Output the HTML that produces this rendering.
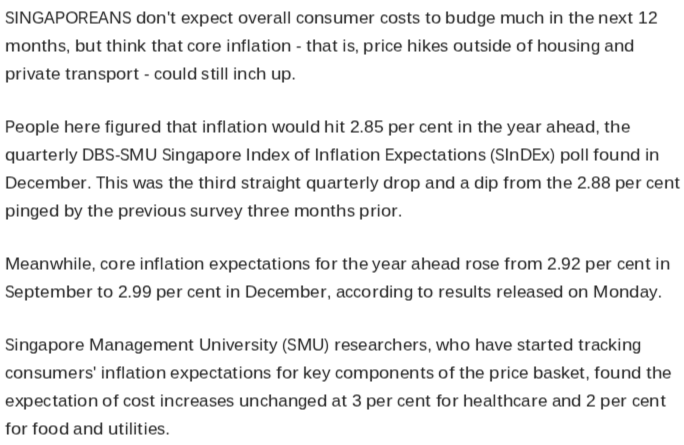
<!DOCTYPE html>
<html lang="en"><head><meta charset="utf-8"><title>Article</title>
<style>
html,body{margin:0;padding:0;background:#fff;}
body{width:684px;height:445px;overflow:hidden;position:relative;font-family:"Liberation Sans",sans-serif;font-size:17px;color:#222;}
/* slight softening + half-pixel baseline offset, as in the (resampled) reference */
#article{position:absolute;left:0;top:0;width:684px;height:445px;overflow:hidden;filter:url(#soft);}
p{margin:0;}
/* one absolutely placed box per text line; glyph cells are sized to the reference advance widths */
.l{position:absolute;left:5px;width:679px;height:20px;line-height:20px;white-space:nowrap;}
.l b{display:inline-block;font-weight:normal;transform-origin:0 0;}
</style></head><body>
<svg width="0" height="0" style="position:absolute"><defs><filter id="soft" filterUnits="userSpaceOnUse" x="0" y="0" width="684" height="445" color-interpolation-filters="sRGB"><feConvolveMatrix order="3 2" kernelMatrix="0.05 0.4 0.05 0.05 0.4 0.05" divisor="1" targetX="1" targetY="1" edgeMode="none" preserveAlpha="false"/></filter></defs></svg>
<div id="article">
<p>
<span class="l" style="top:8px"><b style="width:9.3125px;transform:translateX(-.1px) scaleX(0.840)">S</b><b style="width:4.75px;transform:translateX(.02px)">I</b><b style="width:12.8125px;transform:scaleX(1.043)">N</b><b style="width:12.375px;transform:translateX(-.02px) scaleX(0.935)">G</b><b style="width:10.75px;transform:translateX(-.03px) scaleX(0.949)">A</b><b style="width:10.1875px;transform:translateX(-.03px) scaleX(0.904)">P</b><b style="width:13.25px;transform:translateX(.02px)">O</b><b style="width:10.4375px;transform:translateX(-.02px) scaleX(0.855)">R</b><b style="width:9.5px;transform:scaleX(0.840)">E</b><b style="width:10.75px;transform:translateX(-.02px) scaleX(0.949)">A</b><b style="width:12.75px;transform:translateX(-.02px) scaleX(1.043)">N</b><b style="width:9.375px;transform:translateX(-.06px) scaleX(0.840)">S</b> <b style="margin-left:-.359375px;width:10.4375px;transform:translateX(.02px) scaleX(1.101)">d</b><b style="width:10.1875px;transform:translateX(-.02px) scaleX(1.083)">o</b><b style="width:10.4375px;transform:translateX(.03px) scaleX(1.102)">n</b><b style="width:3.75px;transform:translateX(.26px)">'</b><b style="width:6.0625px;transform:translateX(.37px) scaleX(1.120)">t</b> <b style="margin-left:-.359375px;width:9.5625px;transform:translateX(.03px) scaleX(1.010)">e</b><b style="width:8.9375px;transform:translateX(.02px) scaleX(1.048)">x</b><b style="width:10.375px;transform:translateX(-.03px) scaleX(1.101)">p</b><b style="width:9.5625px;transform:scaleX(1.010)">e</b><b style="width:8.125px;transform:translateX(-.02px) scaleX(0.960)">c</b><b style="width:6.0625px;transform:translateX(.39px) scaleX(1.120)">t</b> <b style="margin-left:-.359375px;width:10.25px;transform:translateX(.03px) scaleX(1.083)">o</b><b style="width:8.5px;transform:translateX(.02px)">v</b><b style="width:9.5625px;transform:scaleX(1.010)">e</b><b style="width:6.9375px;transform:translateX(.29px) scaleX(1.120)">r</b><b style="width:9.4375px;transform:scaleX(0.998)">a</b><b style="width:4.3125px;transform:translateX(.27px)">l</b><b style="width:4.3125px;transform:translateX(.25px)">l</b> <b style="margin-left:-.359375px;width:8.1875px;transform:scaleX(0.961)">c</b><b style="width:10.1875px;transform:translateX(-.03px) scaleX(1.081)">o</b><b style="width:10.4375px;transform:scaleX(1.102)">n</b><b style="width:8.125px;transform:translateX(-.02px) scaleX(0.956)">s</b><b style="width:10.375px;transform:translateX(-.03px) scaleX(1.102)">u</b><b style="width:15.75px;transform:translateX(.02px) scaleX(1.111)">m</b><b style="width:9.5625px;transform:scaleX(1.010)">e</b><b style="width:7px;transform:translateX(.29px) scaleX(1.120)">r</b> <b style="margin-left:-.359375px;width:8.125px;transform:translateX(-.02px) scaleX(0.960)">c</b><b style="width:10.1875px;transform:scaleX(1.081)">o</b><b style="width:8.125px;transform:translateX(.03px) scaleX(0.956)">s</b><b style="width:6.0625px;transform:translateX(.4px) scaleX(1.120)">t</b><b style="width:8.125px;transform:translateX(.02px) scaleX(0.954)">s</b> <b style="margin-left:-.296875px;width:6px;transform:translateX(.35px) scaleX(1.120)">t</b><b style="width:10.25px;transform:translateX(.02px) scaleX(1.083)">o</b> <b style="margin-left:-.296875px;width:10.375px;transform:translateX(-.02px) scaleX(1.099)">b</b><b style="width:10.4375px;transform:scaleX(1.102)">u</b><b style="width:10.375px;transform:scaleX(1.099)">d</b><b style="width:9.25px;transform:translateX(.02px) scaleX(0.977)">g</b><b style="width:9.5625px;transform:scaleX(1.010)">e</b> <b style="margin-left:-.359375px;width:15.75px;transform:translateX(.02px) scaleX(1.112)">m</b><b style="width:10.4375px;transform:translateX(.02px) scaleX(1.102)">u</b><b style="width:8.125px;transform:scaleX(0.960)">c</b><b style="width:10.4375px;transform:translateX(.02px) scaleX(1.102)">h</b> <b style="margin-left:-.296875px;width:4.25px;transform:translateX(.25px)">i</b><b style="width:10.4375px;transform:translateX(.03px) scaleX(1.102)">n</b> <b style="margin-left:-.296875px;width:6.0625px;transform:translateX(.38px) scaleX(1.120)">t</b><b style="width:10.4375px;transform:translateX(-.02px) scaleX(1.104)">h</b><b style="width:9.5625px;transform:translateX(-.02px) scaleX(1.010)">e</b> <b style="margin-left:-.359375px;width:10.4375px;transform:scaleX(1.102)">n</b><b style="width:9.5px;transform:translateX(-.02px) scaleX(1.010)">e</b><b style="width:8.9375px;transform:translateX(.03px) scaleX(1.050)">x</b><b style="width:6.0625px;transform:translateX(.39px) scaleX(1.120)">t</b> <b style="margin-left:-.359375px;width:9.75px;transform:translateX(.03px) scaleX(1.028)">1</b><b style="width:9.75px;transform:scaleX(1.028)">2</b></span>
<span class="l" style="top:36px"><b style="width:15.75px;transform:scaleX(1.111)">m</b><b style="width:10.1875px;transform:translateX(-.02px) scaleX(1.081)">o</b><b style="width:10.4375px;transform:translateX(.02px) scaleX(1.102)">n</b><b style="width:6.0625px;transform:translateX(.4px) scaleX(1.120)">t</b><b style="width:10.4375px;transform:scaleX(1.104)">h</b><b style="width:8.125px;transform:scaleX(0.954)">s</b><b style="width:4.4375px;transform:translateX(-.19px)">,</b> <b style="margin-left:-.421875px;width:10.4375px;transform:translateX(.03px) scaleX(1.101)">b</b><b style="width:10.4375px;transform:scaleX(1.102)">u</b><b style="width:6.0625px;transform:translateX(.37px) scaleX(1.120)">t</b> <b style="margin-left:-.296875px;width:6px;transform:translateX(.35px) scaleX(1.120)">t</b><b style="width:10.4375px;transform:translateX(.02px) scaleX(1.104)">h</b><b style="width:4.3125px;transform:translateX(.27px)">i</b><b style="width:10.4375px;transform:translateX(-.02px) scaleX(1.104)">n</b><b style="width:8.9375px;transform:translateX(-.02px) scaleX(1.051)">k</b> <b style="margin-left:-.359375px;width:6.0625px;transform:translateX(.4px) scaleX(1.120)">t</b><b style="width:10.4375px;transform:translateX(.02px) scaleX(1.102)">h</b><b style="width:9.4375px;transform:scaleX(0.998)">a</b><b style="width:6.0625px;transform:translateX(.39px) scaleX(1.120)">t</b> <b style="margin-left:-.296875px;width:8.125px;transform:translateX(-.02px) scaleX(0.960)">c</b><b style="width:10.25px;transform:scaleX(1.083)">o</b><b style="width:6.9375px;transform:translateX(.28px) scaleX(1.120)">r</b><b style="width:9.5625px;transform:translateX(-.02px) scaleX(1.010)">e</b> <b style="margin-left:-.359375px;width:4.3125px;transform:translateX(.27px)">i</b><b style="width:10.4375px;transform:translateX(-.02px) scaleX(1.104)">n</b><b style="width:5px;transform:translateX(-.02px) scaleX(1.059)">f</b><b style="width:5px;transform:translateX(.6px)">l</b><b style="width:9.4375px;transform:translateX(-.02px)">a</b><b style="width:6.0625px;transform:translateX(.39px) scaleX(1.120)">t</b><b style="width:4.3125px;transform:translateX(.26px)">i</b><b style="width:10.1875px;transform:translateX(-.03px) scaleX(1.083)">o</b><b style="width:10.4375px;transform:translateX(.02px) scaleX(1.102)">n</b> <b style="margin-left:-.296875px;width:5.5px;transform:translateX(-.02px) scaleX(0.967)">-</b> <b style="margin-left:-.359375px;width:6.0625px;transform:translateX(.37px) scaleX(1.120)">t</b><b style="width:10.4375px;transform:translateX(-.02px) scaleX(1.104)">h</b><b style="width:9.4375px;transform:translateX(-.02px) scaleX(0.998)">a</b><b style="width:6.0625px;transform:translateX(.37px) scaleX(1.120)">t</b> <b style="margin-left:-.296875px;width:4.25px;transform:translateX(.23px)">i</b><b style="width:8.125px;transform:scaleX(0.956)">s</b><b style="width:4.375px;transform:translateX(-.18px)">,</b> <b style="margin-left:-.296875px;width:10.375px;transform:translateX(-.02px) scaleX(1.101)">p</b><b style="width:6.9375px;transform:translateX(.32px) scaleX(1.120)">r</b><b style="width:4.3125px;transform:translateX(.28px)">i</b><b style="width:8.125px;transform:scaleX(0.960)">c</b><b style="width:9.5625px;transform:translateX(.02px) scaleX(1.010)">e</b> <b style="margin-left:-.296875px;width:10.4375px;transform:translateX(-.02px) scaleX(1.102)">h</b><b style="width:4.25px;transform:translateX(.23px)">i</b><b style="width:8.9375px;transform:scaleX(1.053)">k</b><b style="width:9.5625px;transform:scaleX(1.010)">e</b><b style="width:8.125px;transform:translateX(-.02px) scaleX(0.956)">s</b> <b style="margin-left:-.359375px;width:10.25px;transform:scaleX(1.083)">o</b><b style="width:10.375px;transform:translateX(-.02px) scaleX(1.102)">u</b><b style="width:6.125px;transform:translateX(.42px) scaleX(1.120)">t</b><b style="width:8.0625px;transform:translateX(-.03px) scaleX(0.954)">s</b><b style="width:4.3125px;transform:translateX(.27px)">i</b><b style="width:10.375px;transform:translateX(-.02px) scaleX(1.101)">d</b><b style="width:9.5625px;transform:translateX(.02px) scaleX(1.008)">e</b> <b style="margin-left:-.296875px;width:10.1875px;transform:translateX(-.03px) scaleX(1.083)">o</b><b style="width:5.75px;transform:translateX(.23px) scaleX(1.120)">f</b> <b style="margin-left:-.359375px;width:10.4375px;transform:translateX(.02px) scaleX(1.102)">h</b><b style="width:10.25px;transform:translateX(.02px) scaleX(1.081)">o</b><b style="width:10.375px;transform:translateX(-.02px) scaleX(1.102)">u</b><b style="width:8.125px;transform:translateX(.03px) scaleX(0.956)">s</b><b style="width:4.3125px;transform:translateX(.27px)">i</b><b style="width:10.4375px;transform:translateX(-.02px) scaleX(1.104)">n</b><b style="width:9.25px;transform:translateX(-.02px) scaleX(0.975)">g</b> <b style="margin-left:-.359375px;width:9.4375px">a</b><b style="width:10.4375px;transform:translateX(.02px) scaleX(1.102)">n</b><b style="width:10.375px;transform:scaleX(1.099)">d</b></span>
<span class="l" style="top:64px"><b style="width:10.375px;transform:scaleX(1.099)">p</b><b style="width:7px;transform:translateX(.32px) scaleX(1.120)">r</b><b style="width:4.25px;transform:translateX(.23px)">i</b><b style="width:8.5px;transform:scaleX(1.002)">v</b><b style="width:9.4375px;transform:scaleX(0.998)">a</b><b style="width:6.0625px;transform:translateX(.4px) scaleX(1.120)">t</b><b style="width:9.5625px;transform:scaleX(1.010)">e</b> <b style="margin-left:-.296875px;width:6px;transform:translateX(.36px) scaleX(1.120)">t</b><b style="width:7px;transform:translateX(.33px) scaleX(1.120)">r</b><b style="width:9.4375px;transform:translateX(-.03px)">a</b><b style="width:10.4375px;transform:translateX(-.02px) scaleX(1.102)">n</b><b style="width:8.0625px;transform:translateX(-.03px) scaleX(0.956)">s</b><b style="width:10.4375px;transform:translateX(.02px) scaleX(1.099)">p</b><b style="width:10.1875px;transform:translateX(-.03px) scaleX(1.083)">o</b><b style="width:6.9375px;transform:translateX(.32px) scaleX(1.120)">r</b><b style="width:6.0625px;transform:translateX(.4px) scaleX(1.120)">t</b> <b style="margin-left:-.296875px;width:5.5px;transform:scaleX(0.967)">-</b> <b style="margin-left:-.359375px;width:8.125px;transform:translateX(.02px) scaleX(0.960)">c</b><b style="width:10.25px;transform:translateX(.03px) scaleX(1.081)">o</b><b style="width:10.4375px;transform:scaleX(1.104)">u</b><b style="width:4.3125px;transform:translateX(.26px)">l</b><b style="width:10.4375px;transform:translateX(-.03px) scaleX(1.101)">d</b> <b style="margin-left:-.421875px;width:8.125px;transform:translateX(.03px) scaleX(0.956)">s</b><b style="width:6.0625px;transform:translateX(.4px) scaleX(1.120)">t</b><b style="width:4.3125px;transform:translateX(.27px)">i</b><b style="width:4.25px;transform:translateX(.25px)">l</b><b style="width:4.3125px;transform:translateX(.3px)">l</b> <b style="margin-left:-.296875px;width:4.25px;transform:translateX(.25px)">i</b><b style="width:10.4375px;transform:translateX(.03px) scaleX(1.102)">n</b><b style="width:8.1875px;transform:translateX(.02px) scaleX(0.960)">c</b><b style="width:10.4375px;transform:translateX(-.03px) scaleX(1.104)">h</b> <b style="margin-left:-.359375px;width:10.4375px;transform:scaleX(1.104)">u</b><b style="width:10.375px;transform:scaleX(1.099)">p</b><b style="width:4.5px;transform:translateX(-.11px)">.</b></span>
</p>
<p>
<span class="l" style="top:117px"><b style="width:10.25px;transform:scaleX(0.902)">P</b><b style="width:9.5px;transform:translateX(-.03px) scaleX(1.010)">e</b><b style="width:10.25px;transform:translateX(.02px) scaleX(1.081)">o</b><b style="width:10.375px;transform:translateX(-.02px) scaleX(1.101)">p</b><b style="width:4.3125px;transform:translateX(.28px)">l</b><b style="width:9.5625px;transform:scaleX(1.010)">e</b> <b style="margin-left:-.359375px;width:10.4375px;transform:translateX(.02px) scaleX(1.104)">h</b><b style="width:9.5625px;transform:translateX(.02px) scaleX(1.008)">e</b><b style="width:6.9375px;transform:translateX(.3px) scaleX(1.120)">r</b><b style="width:9.5625px;transform:scaleX(1.010)">e</b> <b style="margin-left:-.359375px;width:5px;transform:translateX(.03px) scaleX(1.059)">f</b><b style="width:5px;transform:translateX(.65px)">i</b><b style="width:9.25px;transform:translateX(.03px) scaleX(0.977)">g</b><b style="width:10.4375px;transform:translateX(.02px) scaleX(1.102)">u</b><b style="width:6.9375px;transform:translateX(.31px) scaleX(1.120)">r</b><b style="width:9.5625px;transform:translateX(.02px) scaleX(1.010)">e</b><b style="width:10.4375px;transform:scaleX(1.101)">d</b> <b style="margin-left:-.359375px;width:6.0625px;transform:translateX(.39px) scaleX(1.120)">t</b><b style="width:10.4375px;transform:scaleX(1.102)">h</b><b style="width:9.4375px;transform:translateX(-.02px)">a</b><b style="width:6.0625px;transform:translateX(.39px) scaleX(1.120)">t</b> <b style="margin-left:-.359375px;width:4.3125px;transform:translateX(.3px)">i</b><b style="width:10.4375px;transform:translateX(.02px) scaleX(1.102)">n</b><b style="width:5px;transform:scaleX(1.063)">f</b><b style="width:5px;transform:translateX(.63px)">l</b><b style="width:9.5px;transform:translateX(.02px) scaleX(0.998)">a</b><b style="width:6px;transform:translateX(.35px) scaleX(1.120)">t</b><b style="width:4.3125px;transform:translateX(.28px)">i</b><b style="width:10.1875px;transform:scaleX(1.081)">o</b><b style="width:10.4375px;transform:translateX(.03px) scaleX(1.104)">n</b> <b style="margin-left:-.296875px;width:13.1875px;transform:scaleX(1.074)">w</b><b style="width:10.1875px;transform:translateX(-.02px) scaleX(1.083)">o</b><b style="width:10.4375px;transform:translateX(.03px) scaleX(1.102)">u</b><b style="width:4.3125px;transform:translateX(.28px)">l</b><b style="width:10.375px;transform:scaleX(1.099)">d</b> <b style="margin-left:-.296875px;width:10.4375px;transform:scaleX(1.102)">h</b><b style="width:4.25px;transform:translateX(.25px)">i</b><b style="width:6.0625px;transform:translateX(.42px) scaleX(1.120)">t</b> <b style="margin-left:-.296875px;width:9.75px;transform:scaleX(1.030)">2</b><b style="width:4.4375px;transform:translateX(-.15px)">.</b><b style="width:9.6875px;transform:scaleX(1.028)">8</b><b style="width:9.75px;transform:translateX(.03px) scaleX(1.030)">5</b> <b style="margin-left:-.296875px;width:10.375px;transform:translateX(-.02px) scaleX(1.101)">p</b><b style="width:9.5625px;transform:translateX(.02px) scaleX(1.010)">e</b><b style="width:6.9375px;transform:translateX(.3px) scaleX(1.120)">r</b> <b style="margin-left:-.296875px;width:8.125px;transform:translateX(-.02px) scaleX(0.960)">c</b><b style="width:9.5625px;transform:scaleX(1.010)">e</b><b style="width:10.4375px;transform:translateX(-.02px) scaleX(1.102)">n</b><b style="width:6.0625px;transform:translateX(.36px) scaleX(1.120)">t</b> <b style="margin-left:-.359375px;width:4.3125px;transform:translateX(.27px)">i</b><b style="width:10.4375px;transform:scaleX(1.102)">n</b> <b style="margin-left:-.359375px;width:6.0625px;transform:translateX(.4px) scaleX(1.120)">t</b><b style="width:10.4375px;transform:translateX(.02px) scaleX(1.102)">h</b><b style="width:9.5625px;transform:scaleX(1.010)">e</b> <b style="margin-left:-.359375px;width:8.5625px;transform:translateX(.03px) scaleX(1.004)">y</b><b style="width:9.5625px;transform:translateX(-.02px) scaleX(1.010)">e</b><b style="width:9.4375px;transform:translateX(-.03px)">a</b><b style="width:6.9375px;transform:translateX(.28px) scaleX(1.120)">r</b> <b style="margin-left:-.359375px;width:9.5px;transform:translateX(.03px) scaleX(0.998)">a</b><b style="width:10.375px;transform:translateX(-.03px) scaleX(1.104)">h</b><b style="width:9.5625px;transform:translateX(.03px) scaleX(1.010)">e</b><b style="width:9.4375px;transform:translateX(.02px) scaleX(0.998)">a</b><b style="width:10.4375px;transform:translateX(.02px) scaleX(1.101)">d</b><b style="width:4.375px;transform:translateX(-.18px)">,</b> <b style="margin-left:-.296875px;width:6.0625px;transform:translateX(.37px) scaleX(1.120)">t</b><b style="width:10.4375px;transform:translateX(-.02px) scaleX(1.102)">h</b><b style="width:9.5625px;transform:translateX(-.03px) scaleX(1.010)">e</b></span>
<span class="l" style="top:145px"><b style="width:10.375px;transform:scaleX(1.099)">q</b><b style="width:10.4375px;transform:translateX(.02px) scaleX(1.102)">u</b><b style="width:9.4375px">a</b><b style="width:7px;transform:translateX(.32px) scaleX(1.120)">r</b><b style="width:6px;transform:translateX(.35px) scaleX(1.120)">t</b><b style="width:9.5625px;transform:translateX(.02px) scaleX(1.010)">e</b><b style="width:6.9375px;transform:translateX(.31px) scaleX(1.120)">r</b><b style="width:4.3125px;transform:translateX(.28px)">l</b><b style="width:8.5px;transform:scaleX(1.004)">y</b> <b style="margin-left:-.296875px;width:12.3125px;transform:translateX(-.02px) scaleX(1.006)">D</b><b style="width:11px;transform:translateX(.02px) scaleX(0.970)">B</b><b style="width:9.3125px;transform:translateX(-.1px) scaleX(0.840)">S</b><b style="width:5.5px;transform:scaleX(0.967)">-</b><b style="width:9.3125px;transform:translateX(-.12px) scaleX(0.840)">S</b><b style="width:15.3125px;transform:translateX(-.02px) scaleX(1.079)">M</b><b style="width:12.375px;transform:translateX(-.03px) scaleX(1.010)">U</b> <b style="margin-left:-.359375px;width:9.375px;transform:translateX(-.08px) scaleX(0.840)">S</b><b style="width:4.25px;transform:translateX(.23px)">i</b><b style="width:10.4375px;transform:translateX(.02px) scaleX(1.102)">n</b><b style="width:9.25px;transform:scaleX(0.977)">g</b><b style="width:9.4375px;transform:translateX(-.02px) scaleX(0.998)">a</b><b style="width:10.375px;transform:translateX(-.02px) scaleX(1.101)">p</b><b style="width:10.25px;transform:translateX(.02px) scaleX(1.081)">o</b><b style="width:6.9375px;transform:translateX(.29px) scaleX(1.120)">r</b><b style="width:9.5625px;transform:scaleX(1.010)">e</b> <b style="margin-left:-.359375px;width:4.75px;transform:translateX(.03px)">I</b><b style="width:10.4375px;transform:translateX(.02px) scaleX(1.104)">n</b><b style="width:10.4375px;transform:translateX(.02px) scaleX(1.099)">d</b><b style="width:9.5px;transform:translateX(-.03px) scaleX(1.010)">e</b><b style="width:8.9375px;transform:translateX(.02px) scaleX(1.050)">x</b> <b style="margin-left:-.359375px;width:10.25px;transform:translateX(.02px) scaleX(1.083)">o</b><b style="width:5.75px;transform:translateX(.22px) scaleX(1.120)">f</b> <b style="margin-left:-.359375px;width:4.75px;transform:translateX(.02px)">I</b><b style="width:10.4375px;transform:scaleX(1.104)">n</b><b style="width:5px;transform:scaleX(1.059)">f</b><b style="width:5px;transform:translateX(.62px)">l</b><b style="width:9.4375px">a</b><b style="width:6.0625px;transform:translateX(.4px) scaleX(1.120)">t</b><b style="width:4.3125px;transform:translateX(.27px)">i</b><b style="width:10.1875px;transform:translateX(-.02px) scaleX(1.083)">o</b><b style="width:10.4375px;transform:translateX(.03px) scaleX(1.102)">n</b> <b style="margin-left:-.296875px;width:9.4375px;transform:translateX(-.04px) scaleX(0.840)">E</b><b style="width:8.9375px;transform:scaleX(1.050)">x</b><b style="width:10.375px;transform:translateX(-.03px) scaleX(1.099)">p</b><b style="width:9.5px;transform:translateX(-.02px) scaleX(1.010)">e</b><b style="width:8.1875px;transform:translateX(.03px) scaleX(0.960)">c</b><b style="width:6.0625px;transform:translateX(.38px) scaleX(1.120)">t</b><b style="width:9.4375px;transform:translateX(-.02px)">a</b><b style="width:6.0625px;transform:translateX(.39px) scaleX(1.120)">t</b><b style="width:4.25px;transform:translateX(.26px)">i</b><b style="width:10.25px;transform:translateX(.03px) scaleX(1.083)">o</b><b style="width:10.4375px;transform:translateX(.02px) scaleX(1.102)">n</b><b style="width:8.125px;transform:scaleX(0.956)">s</b> <b style="margin-left:-.359375px;width:5.0625px;transform:translateX(.02px) scaleX(0.887)">(</b><b style="width:9.3125px;transform:translateX(-.12px) scaleX(0.840)">S</b><b style="width:4.75px">I</b><b style="width:10.4375px;transform:translateX(-.02px) scaleX(1.102)">n</b><b style="width:12.3125px;transform:translateX(-.03px) scaleX(1.005)">D</b><b style="width:9.4375px;transform:translateX(-.05px) scaleX(0.840)">E</b><b style="width:8.875px;transform:scaleX(1.048)">x</b><b style="width:5px;transform:translateX(.02px) scaleX(0.887)">)</b> <b style="margin-left:-.296875px;width:10.4375px;transform:translateX(.02px) scaleX(1.099)">p</b><b style="width:10.1875px;transform:translateX(-.03px) scaleX(1.083)">o</b><b style="width:4.3125px;transform:translateX(.28px)">l</b><b style="width:4.3125px;transform:translateX(.26px)">l</b> <b style="margin-left:-.359375px;width:5.75px;transform:translateX(.23px) scaleX(1.120)">f</b><b style="width:10.1875px;transform:translateX(-.02px) scaleX(1.081)">o</b><b style="width:10.4375px;transform:translateX(.02px) scaleX(1.104)">u</b><b style="width:10.4375px;transform:translateX(.02px) scaleX(1.102)">n</b><b style="width:10.4375px;transform:scaleX(1.101)">d</b> <b style="margin-left:-.359375px;width:4.3125px;transform:translateX(.27px)">i</b><b style="width:10.4375px;transform:translateX(-.02px) scaleX(1.102)">n</b></span>
<span class="l" style="top:173px"><b style="width:12.3125px;transform:scaleX(1.005)">D</b><b style="width:9.5625px;transform:translateX(.02px) scaleX(1.010)">e</b><b style="width:8.125px;transform:scaleX(0.960)">c</b><b style="width:9.5625px;transform:translateX(.02px) scaleX(1.010)">e</b><b style="width:15.75px;transform:scaleX(1.111)">m</b><b style="width:10.375px;transform:translateX(-.02px) scaleX(1.101)">b</b><b style="width:9.5625px;transform:translateX(.02px) scaleX(1.010)">e</b><b style="width:6.9375px;transform:translateX(.3px) scaleX(1.120)">r</b><b style="width:4.5px;transform:translateX(-.12px)">.</b> <b style="margin-left:-.359375px;width:9.375px;transform:translateX(.02px) scaleX(0.902)">T</b><b style="width:10.4375px;transform:scaleX(1.102)">h</b><b style="width:4.25px;transform:translateX(.25px)">i</b><b style="width:8.125px;transform:translateX(.03px) scaleX(0.956)">s</b> <b style="margin-left:-.296875px;width:13.1875px;transform:translateX(-.02px) scaleX(1.074)">w</b><b style="width:9.4375px;transform:translateX(-.03px)">a</b><b style="width:8.125px;transform:translateX(-.02px) scaleX(0.954)">s</b> <b style="margin-left:-.359375px;width:6.0625px;transform:translateX(.39px) scaleX(1.120)">t</b><b style="width:10.4375px;transform:scaleX(1.102)">h</b><b style="width:9.5625px;transform:translateX(-.02px) scaleX(1.010)">e</b> <b style="margin-left:-.359375px;width:6.0625px;transform:translateX(.4px) scaleX(1.120)">t</b><b style="width:10.4375px;transform:scaleX(1.104)">h</b><b style="width:4.25px;transform:translateX(.26px)">i</b><b style="width:7px;transform:translateX(.34px) scaleX(1.120)">r</b><b style="width:10.4375px;transform:translateX(-.02px) scaleX(1.101)">d</b> <b style="margin-left:-.359375px;width:8.0625px;transform:translateX(-.02px) scaleX(0.956)">s</b><b style="width:6.125px;transform:translateX(.42px) scaleX(1.120)">t</b><b style="width:6.875px;transform:translateX(.27px) scaleX(1.120)">r</b><b style="width:9.5px;transform:translateX(.03px)">a</b><b style="width:4.25px;transform:translateX(.24px)">i</b><b style="width:9.25px;transform:translateX(.02px) scaleX(0.977)">g</b><b style="width:10.4375px;transform:scaleX(1.102)">h</b><b style="width:6.0625px;transform:translateX(.37px) scaleX(1.120)">t</b> <b style="margin-left:-.359375px;width:10.4375px;transform:translateX(.03px) scaleX(1.101)">q</b><b style="width:10.4375px;transform:scaleX(1.102)">u</b><b style="width:9.4375px;transform:translateX(-.02px) scaleX(0.998)">a</b><b style="width:6.9375px;transform:translateX(.29px) scaleX(1.120)">r</b><b style="width:6.0625px;transform:translateX(.39px) scaleX(1.120)">t</b><b style="width:9.5625px;transform:scaleX(1.010)">e</b><b style="width:6.9375px;transform:translateX(.28px) scaleX(1.120)">r</b><b style="width:4.3125px;transform:translateX(.25px)">l</b><b style="width:8.5px;transform:translateX(-.03px) scaleX(1.004)">y</b> <b style="margin-left:-.359375px;width:10.4375px;transform:translateX(.03px) scaleX(1.099)">d</b><b style="width:6.9375px;transform:translateX(.29px) scaleX(1.120)">r</b><b style="width:10.25px;transform:scaleX(1.083)">o</b><b style="width:10.375px;transform:translateX(-.02px) scaleX(1.099)">p</b> <b style="margin-left:-.296875px;width:9.4375px;transform:translateX(-.02px) scaleX(0.998)">a</b><b style="width:10.4375px;transform:translateX(-.02px) scaleX(1.104)">n</b><b style="width:10.375px;transform:translateX(-.02px) scaleX(1.099)">d</b> <b style="margin-left:-.296875px;width:9.4375px;transform:translateX(-.02px) scaleX(0.998)">a</b> <b style="margin-left:-.296875px;width:10.375px;transform:translateX(-.03px) scaleX(1.101)">d</b><b style="width:4.25px;transform:translateX(.26px)">i</b><b style="width:10.4375px;transform:translateX(.03px) scaleX(1.101)">p</b> <b style="margin-left:-.296875px;width:5.6875px;transform:translateX(.2px) scaleX(1.120)">f</b><b style="width:6.9375px;transform:translateX(.32px) scaleX(1.120)">r</b><b style="width:10.25px;transform:translateX(.02px) scaleX(1.083)">o</b><b style="width:15.75px;transform:scaleX(1.111)">m</b> <b style="margin-left:-.359375px;width:6.125px;transform:translateX(.42px) scaleX(1.120)">t</b><b style="width:10.375px;transform:translateX(-.03px) scaleX(1.102)">h</b><b style="width:9.5625px;transform:translateX(.02px) scaleX(1.010)">e</b> <b style="margin-left:-.296875px;width:9.6875px;transform:translateX(-.03px) scaleX(1.028)">2</b><b style="width:4.4375px;transform:translateX(-.12px)">.</b><b style="width:9.75px;transform:translateX(.03px) scaleX(1.028)">8</b><b style="width:9.75px;transform:scaleX(1.028)">8</b> <b style="margin-left:-.359375px;width:10.4375px;transform:translateX(.02px) scaleX(1.101)">p</b><b style="width:9.5625px;transform:translateX(-.02px) scaleX(1.010)">e</b><b style="width:6.9375px;transform:translateX(.27px) scaleX(1.120)">r</b> <b style="margin-left:-.359375px;width:8.1875px;transform:translateX(.02px) scaleX(0.960)">c</b><b style="width:9.5px;transform:translateX(-.03px) scaleX(1.010)">e</b><b style="width:10.4375px;transform:translateX(.02px) scaleX(1.102)">n</b><b style="width:6.0625px;transform:translateX(.39px) scaleX(1.120)">t</b></span>
<span class="l" style="top:201px"><b style="width:10.375px;transform:scaleX(1.099)">p</b><b style="width:4.3125px;transform:translateX(.28px)">i</b><b style="width:10.4375px;transform:scaleX(1.102)">n</b><b style="width:9.25px;transform:translateX(-.02px) scaleX(0.977)">g</b><b style="width:9.5px;transform:translateX(-.03px) scaleX(1.010)">e</b><b style="width:10.375px;transform:translateX(.02px) scaleX(1.099)">d</b> <b style="margin-left:-.296875px;width:10.4375px;transform:translateX(.02px) scaleX(1.101)">b</b><b style="width:8.5px;transform:translateX(-.02px) scaleX(1.004)">y</b> <b style="margin-left:-.359375px;width:6.125px;transform:translateX(.42px) scaleX(1.120)">t</b><b style="width:10.375px;transform:translateX(-.03px) scaleX(1.102)">h</b><b style="width:9.5625px;transform:translateX(.02px) scaleX(1.010)">e</b> <b style="margin-left:-.296875px;width:10.375px;transform:translateX(-.02px) scaleX(1.101)">p</b><b style="width:6.9375px;transform:translateX(.32px) scaleX(1.120)">r</b><b style="width:9.5625px;transform:translateX(.02px) scaleX(1.010)">e</b><b style="width:8.5px;transform:scaleX(1.002)">v</b><b style="width:4.25px;transform:translateX(.26px)">i</b><b style="width:10.25px;transform:translateX(.03px) scaleX(1.083)">o</b><b style="width:10.4375px;transform:translateX(.02px) scaleX(1.102)">u</b><b style="width:8.125px;transform:scaleX(0.956)">s</b> <b style="margin-left:-.359375px;width:8.125px;transform:translateX(.02px) scaleX(0.956)">s</b><b style="width:10.4375px;transform:scaleX(1.102)">u</b><b style="width:6.9375px;transform:translateX(.29px) scaleX(1.120)">r</b><b style="width:8.5px">v</b><b style="width:9.5625px;transform:translateX(-.02px) scaleX(1.010)">e</b><b style="width:8.5px;transform:translateX(-.03px) scaleX(1.004)">y</b> <b style="margin-left:-.359375px;width:6.125px;transform:translateX(.42px) scaleX(1.120)">t</b><b style="width:10.375px;transform:translateX(-.03px) scaleX(1.102)">h</b><b style="width:6.9375px;transform:translateX(.32px) scaleX(1.120)">r</b><b style="width:9.5625px;transform:translateX(.02px) scaleX(1.010)">e</b><b style="width:9.5625px;transform:scaleX(1.010)">e</b> <b style="margin-left:-.296875px;width:15.6875px;transform:translateX(-.03px) scaleX(1.111)">m</b><b style="width:10.25px;transform:translateX(.02px) scaleX(1.083)">o</b><b style="width:10.4375px;transform:scaleX(1.102)">n</b><b style="width:6.0625px;transform:translateX(.37px) scaleX(1.120)">t</b><b style="width:10.4375px;transform:translateX(-.02px) scaleX(1.102)">h</b><b style="width:8.125px;transform:translateX(-.03px) scaleX(0.956)">s</b> <b style="margin-left:-.359375px;width:10.375px;transform:translateX(-.02px) scaleX(1.101)">p</b><b style="width:6.9375px;transform:translateX(.32px) scaleX(1.120)">r</b><b style="width:4.3125px;transform:translateX(.28px)">i</b><b style="width:10.25px;transform:scaleX(1.083)">o</b><b style="width:6.9375px;transform:translateX(.28px) scaleX(1.120)">r</b><b style="width:4.5px;transform:translateX(-.14px)">.</b></span>
</p>
<p>
<span class="l" style="top:254px"><b style="width:15.25px;transform:scaleX(1.079)">M</b><b style="width:9.5625px;transform:translateX(.03px) scaleX(1.010)">e</b><b style="width:9.4375px;transform:translateX(.02px)">a</b><b style="width:10.4375px;transform:translateX(.03px) scaleX(1.102)">n</b><b style="width:13.1875px;transform:translateX(.02px) scaleX(1.074)">w</b><b style="width:10.4375px;transform:scaleX(1.102)">h</b><b style="width:4.3125px;transform:translateX(.25px)">i</b><b style="width:4.25px;transform:translateX(.23px)">l</b><b style="width:9.5625px;transform:scaleX(1.010)">e</b><b style="width:4.4375px;transform:translateX(-.17px)">,</b> <b style="margin-left:-.359375px;width:8.125px;transform:scaleX(0.960)">c</b><b style="width:10.25px;transform:translateX(.02px) scaleX(1.081)">o</b><b style="width:6.9375px;transform:translateX(.29px) scaleX(1.120)">r</b><b style="width:9.5625px;transform:scaleX(1.010)">e</b> <b style="margin-left:-.359375px;width:4.3125px;transform:translateX(.28px)">i</b><b style="width:10.4375px;transform:scaleX(1.102)">n</b><b style="width:5px;transform:translateX(-.02px) scaleX(1.063)">f</b><b style="width:5px;transform:translateX(.62px)">l</b><b style="width:9.4375px">a</b><b style="width:6.0625px;transform:translateX(.4px) scaleX(1.120)">t</b><b style="width:4.3125px;transform:translateX(.27px)">i</b><b style="width:10.1875px;transform:translateX(-.02px) scaleX(1.083)">o</b><b style="width:10.4375px;transform:translateX(.03px) scaleX(1.102)">n</b> <b style="margin-left:-.296875px;width:9.5px;transform:translateX(-.02px) scaleX(1.010)">e</b><b style="width:8.9375px;transform:translateX(.03px) scaleX(1.050)">x</b><b style="width:10.4375px;transform:scaleX(1.101)">p</b><b style="width:9.5px;transform:translateX(-.03px) scaleX(1.008)">e</b><b style="width:8.125px;transform:translateX(.02px) scaleX(0.960)">c</b><b style="width:6.0625px;transform:translateX(.41px) scaleX(1.120)">t</b><b style="width:9.4375px;transform:translateX(.02px)">a</b><b style="width:6.125px;transform:translateX(.42px) scaleX(1.120)">t</b><b style="width:4.25px;transform:translateX(.23px)">i</b><b style="width:10.25px;transform:translateX(.02px) scaleX(1.081)">o</b><b style="width:10.375px;transform:translateX(-.02px) scaleX(1.102)">n</b><b style="width:8.125px;transform:translateX(.03px) scaleX(0.956)">s</b> <b style="margin-left:-.296875px;width:5.6875px;transform:translateX(.2px) scaleX(1.120)">f</b><b style="width:10.25px;transform:translateX(.02px) scaleX(1.083)">o</b><b style="width:7px;transform:translateX(.31px) scaleX(1.120)">r</b> <b style="margin-left:-.359375px;width:6.0625px;transform:translateX(.37px) scaleX(1.120)">t</b><b style="width:10.4375px;transform:translateX(-.02px) scaleX(1.102)">h</b><b style="width:9.5625px;transform:translateX(-.03px) scaleX(1.010)">e</b> <b style="margin-left:-.359375px;width:8.5px;transform:scaleX(1.004)">y</b><b style="width:9.5625px;transform:translateX(.02px) scaleX(1.010)">e</b><b style="width:9.4375px;transform:scaleX(0.998)">a</b><b style="width:7px;transform:translateX(.31px) scaleX(1.120)">r</b> <b style="margin-left:-.359375px;width:9.4375px;transform:scaleX(0.998)">a</b><b style="width:10.4375px;transform:scaleX(1.102)">h</b><b style="width:9.5625px;transform:translateX(-.02px) scaleX(1.010)">e</b><b style="width:9.4375px;transform:translateX(-.03px)">a</b><b style="width:10.4375px;transform:translateX(-.02px) scaleX(1.101)">d</b> <b style="margin-left:-.359375px;width:6.9375px;transform:translateX(.29px) scaleX(1.120)">r</b><b style="width:10.1875px;transform:scaleX(1.081)">o</b><b style="width:8.125px;transform:translateX(.03px) scaleX(0.956)">s</b><b style="width:9.5625px;transform:translateX(.02px) scaleX(1.010)">e</b> <b style="margin-left:-.296875px;width:5.6875px;transform:translateX(.18px) scaleX(1.120)">f</b><b style="width:6.9375px;transform:translateX(.32px) scaleX(1.120)">r</b><b style="width:10.25px;transform:translateX(.02px) scaleX(1.083)">o</b><b style="width:15.75px;transform:scaleX(1.111)">m</b> <b style="margin-left:-.359375px;width:9.75px;transform:translateX(.03px) scaleX(1.028)">2</b><b style="width:4.4375px;transform:translateX(-.13px)">.</b><b style="width:9.75px;transform:translateX(.02px) scaleX(1.030)">9</b><b style="width:9.75px;transform:scaleX(1.028)">2</b> <b style="margin-left:-.359375px;width:10.4375px;transform:scaleX(1.101)">p</b><b style="width:9.5px;transform:translateX(-.03px) scaleX(1.010)">e</b><b style="width:6.9375px;transform:translateX(.32px) scaleX(1.120)">r</b> <b style="margin-left:-.296875px;width:8.125px;transform:scaleX(0.960)">c</b><b style="width:9.5625px;transform:translateX(.02px) scaleX(1.010)">e</b><b style="width:10.4375px;transform:scaleX(1.102)">n</b><b style="width:6.0625px;transform:translateX(.37px) scaleX(1.120)">t</b> <b style="margin-left:-.296875px;width:4.25px;transform:translateX(.23px)">i</b><b style="width:10.4375px;transform:translateX(.02px) scaleX(1.102)">n</b></span>
<span class="l" style="top:282px"><b style="width:9.3125px;transform:translateX(-.1px) scaleX(0.840)">S</b><b style="width:9.5625px;transform:scaleX(1.010)">e</b><b style="width:10.375px;transform:translateX(-.02px) scaleX(1.101)">p</b><b style="width:6.0625px;transform:translateX(.4px) scaleX(1.120)">t</b><b style="width:9.5625px;transform:translateX(.02px) scaleX(1.008)">e</b><b style="width:15.75px;transform:translateX(-.02px) scaleX(1.112)">m</b><b style="width:10.375px;transform:translateX(-.02px) scaleX(1.099)">b</b><b style="width:9.5625px;transform:scaleX(1.010)">e</b><b style="width:7px;transform:translateX(.29px) scaleX(1.120)">r</b> <b style="margin-left:-.359375px;width:6.0625px;transform:translateX(.36px) scaleX(1.120)">t</b><b style="width:10.25px;transform:translateX(-.03px) scaleX(1.083)">o</b> <b style="margin-left:-.359375px;width:9.75px;transform:scaleX(1.028)">2</b><b style="width:4.4375px;transform:translateX(-.16px)">.</b><b style="width:9.6875px;transform:translateX(-.02px) scaleX(1.028)">9</b><b style="width:9.75px;transform:translateX(.03px) scaleX(1.028)">9</b> <b style="margin-left:-.359375px;width:10.4375px;transform:translateX(.03px) scaleX(1.101)">p</b><b style="width:9.5625px;transform:scaleX(1.010)">e</b><b style="width:6.9375px;transform:translateX(.28px) scaleX(1.120)">r</b> <b style="margin-left:-.296875px;width:8.125px;transform:translateX(-.03px) scaleX(0.960)">c</b><b style="width:9.5px;transform:translateX(-.02px) scaleX(1.010)">e</b><b style="width:10.4375px;transform:translateX(.03px) scaleX(1.102)">n</b><b style="width:6.0625px;transform:translateX(.4px) scaleX(1.120)">t</b> <b style="margin-left:-.296875px;width:4.3125px;transform:translateX(.27px)">i</b><b style="width:10.4375px;transform:translateX(-.02px) scaleX(1.102)">n</b> <b style="margin-left:-.359375px;width:12.3125px;transform:scaleX(1.006)">D</b><b style="width:9.5625px;transform:translateX(.03px) scaleX(1.010)">e</b><b style="width:8.1875px;transform:translateX(.02px) scaleX(0.960)">c</b><b style="width:9.5px;transform:translateX(-.03px) scaleX(1.010)">e</b><b style="width:15.75px;transform:translateX(.02px) scaleX(1.111)">m</b><b style="width:10.375px;transform:scaleX(1.101)">b</b><b style="width:9.5625px;transform:translateX(.03px) scaleX(1.010)">e</b><b style="width:6.9375px;transform:translateX(.32px) scaleX(1.120)">r</b><b style="width:4.4375px;transform:translateX(-.14px)">,</b> <b style="margin-left:-.296875px;width:9.375px;transform:translateX(-.03px) scaleX(0.998)">a</b><b style="width:8.1875px;transform:translateX(.03px) scaleX(0.960)">c</b><b style="width:8.125px;transform:translateX(-.02px) scaleX(0.960)">c</b><b style="width:10.25px;transform:scaleX(1.083)">o</b><b style="width:6.9375px;transform:translateX(.29px) scaleX(1.120)">r</b><b style="width:10.375px;transform:scaleX(1.099)">d</b><b style="width:4.3125px;transform:translateX(.28px)">i</b><b style="width:10.4375px;transform:scaleX(1.102)">n</b><b style="width:9.25px;transform:translateX(-.02px) scaleX(0.977)">g</b> <b style="margin-left:-.359375px;width:6.0625px;transform:translateX(.4px) scaleX(1.120)">t</b><b style="width:10.25px;transform:scaleX(1.083)">o</b> <b style="margin-left:-.359375px;width:6.9375px;transform:translateX(.32px) scaleX(1.120)">r</b><b style="width:9.5625px;transform:translateX(.03px) scaleX(1.010)">e</b><b style="width:8.125px;transform:translateX(.02px) scaleX(0.956)">s</b><b style="width:10.4375px;transform:scaleX(1.102)">u</b><b style="width:4.25px;transform:translateX(.24px)">l</b><b style="width:6.0625px;transform:translateX(.4px) scaleX(1.120)">t</b><b style="width:8.125px;transform:translateX(.02px) scaleX(0.956)">s</b> <b style="margin-left:-.296875px;width:6.9375px;transform:translateX(.28px) scaleX(1.120)">r</b><b style="width:9.5625px;transform:translateX(-.02px) scaleX(1.010)">e</b><b style="width:4.25px;transform:translateX(.23px)">l</b><b style="width:9.5625px;transform:translateX(.02px) scaleX(1.010)">e</b><b style="width:9.4375px;transform:scaleX(0.998)">a</b><b style="width:8.125px;transform:scaleX(0.956)">s</b><b style="width:9.5px;transform:translateX(-.02px) scaleX(1.010)">e</b><b style="width:10.375px;transform:translateX(.03px) scaleX(1.099)">d</b> <b style="margin-left:-.234375px;width:10.1875px;transform:translateX(-.03px) scaleX(1.081)">o</b><b style="width:10.4375px;transform:scaleX(1.104)">n</b> <b style="margin-left:-.359375px;width:15.3125px;transform:translateX(.03px) scaleX(1.080)">M</b><b style="width:10.25px;transform:translateX(.02px) scaleX(1.081)">o</b><b style="width:10.4375px;transform:translateX(-.02px) scaleX(1.104)">n</b><b style="width:10.375px;transform:translateX(-.02px) scaleX(1.099)">d</b><b style="width:9.4375px">a</b><b style="width:8.5625px;transform:translateX(.02px) scaleX(1.004)">y</b><b style="width:4.5px;transform:translateX(-.16px)">.</b></span>
</p>
<p>
<span class="l" style="top:335px"><b style="width:9.3125px;transform:translateX(-.1px) scaleX(0.840)">S</b><b style="width:4.3125px;transform:translateX(.27px)">i</b><b style="width:10.375px;transform:translateX(-.02px) scaleX(1.102)">n</b><b style="width:9.25px;transform:translateX(.03px) scaleX(0.977)">g</b><b style="width:9.4375px;transform:translateX(.02px) scaleX(0.998)">a</b><b style="width:10.4375px;transform:translateX(.02px) scaleX(1.101)">p</b><b style="width:10.1875px;transform:translateX(-.02px) scaleX(1.081)">o</b><b style="width:6.9375px;transform:translateX(.32px) scaleX(1.120)">r</b><b style="width:9.5625px;transform:translateX(.03px) scaleX(1.010)">e</b> <b style="margin-left:-.296875px;width:15.25px;transform:scaleX(1.079)">M</b><b style="width:9.5px;transform:translateX(.03px)">a</b><b style="width:10.375px;transform:translateX(-.02px) scaleX(1.102)">n</b><b style="width:9.5px;transform:translateX(.03px)">a</b><b style="width:9.1875px;transform:translateX(-.02px) scaleX(0.975)">g</b><b style="width:9.5625px;transform:translateX(.02px) scaleX(1.010)">e</b><b style="width:15.75px;transform:scaleX(1.112)">m</b><b style="width:9.5625px;transform:scaleX(1.008)">e</b><b style="width:10.4375px;transform:translateX(-.02px) scaleX(1.102)">n</b><b style="width:6.0625px;transform:translateX(.36px) scaleX(1.120)">t</b> <b style="margin-left:-.359375px;width:12.375px;transform:scaleX(1.010)">U</b><b style="width:10.4375px;transform:translateX(.02px) scaleX(1.104)">n</b><b style="width:4.3125px;transform:translateX(.27px)">i</b><b style="width:8.5px;transform:translateX(-.02px) scaleX(1.002)">v</b><b style="width:9.5625px;transform:translateX(-.02px) scaleX(1.010)">e</b><b style="width:6.875px;transform:translateX(.27px) scaleX(1.120)">r</b><b style="width:8.125px;transform:translateX(.03px) scaleX(0.956)">s</b><b style="width:4.3125px;transform:translateX(.27px)">i</b><b style="width:6.0625px;transform:translateX(.37px) scaleX(1.120)">t</b><b style="width:8.5px;transform:translateX(-.02px) scaleX(1.004)">y</b> <b style="margin-left:-.296875px;width:5px;transform:translateX(-.02px) scaleX(0.887)">(</b><b style="width:9.3125px;transform:translateX(-.1px) scaleX(0.840)">S</b><b style="width:15.3125px;transform:scaleX(1.080)">M</b><b style="width:12.375px;transform:translateX(-.02px) scaleX(1.010)">U</b><b style="width:5px;transform:scaleX(0.887)">)</b> <b style="margin-left:-.296875px;width:6.9375px;transform:translateX(.3px) scaleX(1.120)">r</b><b style="width:9.5625px;transform:scaleX(1.010)">e</b><b style="width:8.125px;transform:translateX(-.02px) scaleX(0.956)">s</b><b style="width:9.5px;transform:translateX(-.03px) scaleX(1.010)">e</b><b style="width:9.4375px;transform:translateX(.02px) scaleX(0.998)">a</b><b style="width:6.9375px;transform:translateX(.32px) scaleX(1.120)">r</b><b style="width:8.1875px;transform:translateX(.03px) scaleX(0.960)">c</b><b style="width:10.4375px;transform:translateX(-.02px) scaleX(1.102)">h</b><b style="width:9.5px;transform:translateX(-.03px) scaleX(1.010)">e</b><b style="width:7px;transform:translateX(.32px) scaleX(1.120)">r</b><b style="width:8.0625px;transform:translateX(-.03px) scaleX(0.954)">s</b><b style="width:4.4375px;transform:translateX(-.16px)">,</b> <b style="margin-left:-.359375px;width:13.1875px;transform:translateX(.02px) scaleX(1.074)">w</b><b style="width:10.4375px;transform:scaleX(1.102)">h</b><b style="width:10.25px;transform:translateX(-.02px) scaleX(1.081)">o</b> <b style="margin-left:-.359375px;width:10.4375px;transform:scaleX(1.102)">h</b><b style="width:9.4375px;transform:translateX(-.02px)">a</b><b style="width:8.5px">v</b><b style="width:9.5625px;transform:translateX(-.02px) scaleX(1.010)">e</b> <b style="margin-left:-.359375px;width:8.125px;transform:translateX(.02px) scaleX(0.954)">s</b><b style="width:6.0625px;transform:translateX(.37px) scaleX(1.120)">t</b><b style="width:9.4375px;transform:translateX(-.02px)">a</b><b style="width:6.9375px;transform:translateX(.3px) scaleX(1.120)">r</b><b style="width:6.0625px;transform:translateX(.39px) scaleX(1.120)">t</b><b style="width:9.5625px;transform:scaleX(1.010)">e</b><b style="width:10.4375px;transform:translateX(-.02px) scaleX(1.101)">d</b> <b style="margin-left:-.359375px;width:6.0625px;transform:translateX(.37px) scaleX(1.120)">t</b><b style="width:6.9375px;transform:translateX(.29px) scaleX(1.120)">r</b><b style="width:9.4375px;transform:scaleX(0.998)">a</b><b style="width:8.125px;transform:translateX(.02px) scaleX(0.960)">c</b><b style="width:8.9375px;transform:translateX(.03px) scaleX(1.051)">k</b><b style="width:4.3125px;transform:translateX(.28px)">i</b><b style="width:10.4375px;transform:scaleX(1.102)">n</b><b style="width:9.25px;transform:translateX(-.02px) scaleX(0.977)">g</b></span>
<span class="l" style="top:363px"><b style="width:8.125px;transform:scaleX(0.960)">c</b><b style="width:10.25px;transform:translateX(.02px) scaleX(1.081)">o</b><b style="width:10.375px;transform:translateX(-.02px) scaleX(1.102)">n</b><b style="width:8.125px;transform:translateX(.03px) scaleX(0.956)">s</b><b style="width:10.4375px;transform:translateX(.02px) scaleX(1.102)">u</b><b style="width:15.75px;transform:scaleX(1.111)">m</b><b style="width:9.5625px;transform:translateX(-.02px) scaleX(1.010)">e</b><b style="width:6.9375px;transform:translateX(.28px) scaleX(1.120)">r</b><b style="width:8.0625px;transform:translateX(-.02px) scaleX(0.954)">s</b><b style="width:3.75px;transform:translateX(.27px)">'</b> <b style="margin-left:-.296875px;width:4.25px;transform:translateX(.24px)">i</b><b style="width:10.4375px;transform:translateX(.02px) scaleX(1.104)">n</b><b style="width:5px;transform:translateX(.02px) scaleX(1.059)">f</b><b style="width:5px;transform:translateX(.63px)">l</b><b style="width:9.5px;transform:translateX(.02px)">a</b><b style="width:6px;transform:translateX(.36px) scaleX(1.120)">t</b><b style="width:4.3125px;transform:translateX(.29px)">i</b><b style="width:10.25px;transform:scaleX(1.083)">o</b><b style="width:10.4375px;transform:translateX(-.02px) scaleX(1.102)">n</b> <b style="margin-left:-.359375px;width:9.5625px;transform:translateX(.02px) scaleX(1.010)">e</b><b style="width:8.875px;transform:scaleX(1.048)">x</b><b style="width:10.4375px;transform:translateX(.02px) scaleX(1.101)">p</b><b style="width:9.5px;transform:translateX(-.02px) scaleX(1.010)">e</b><b style="width:8.1875px;transform:translateX(.03px) scaleX(0.960)">c</b><b style="width:6.0625px;transform:translateX(.37px) scaleX(1.120)">t</b><b style="width:9.4375px;transform:translateX(-.02px) scaleX(0.998)">a</b><b style="width:6.0625px;transform:translateX(.37px) scaleX(1.120)">t</b><b style="width:4.25px;transform:translateX(.25px)">i</b><b style="width:10.25px;transform:translateX(.03px) scaleX(1.081)">o</b><b style="width:10.4375px;transform:scaleX(1.102)">n</b><b style="width:8.125px;transform:translateX(-.02px) scaleX(0.956)">s</b> <b style="margin-left:-.359375px;width:5.75px;transform:translateX(.23px) scaleX(1.120)">f</b><b style="width:10.1875px;transform:translateX(-.02px) scaleX(1.081)">o</b><b style="width:7px;transform:translateX(.32px) scaleX(1.120)">r</b> <b style="margin-left:-.359375px;width:8.9375px;transform:scaleX(1.053)">k</b><b style="width:9.5625px;transform:scaleX(1.010)">e</b><b style="width:8.5px;transform:translateX(-.02px) scaleX(1.004)">y</b> <b style="margin-left:-.296875px;width:8.125px;transform:translateX(-.02px) scaleX(0.960)">c</b><b style="width:10.1875px;transform:scaleX(1.081)">o</b><b style="width:15.75px;transform:translateX(.03px) scaleX(1.112)">m</b><b style="width:10.4375px;transform:translateX(.03px) scaleX(1.099)">p</b><b style="width:10.1875px;transform:translateX(-.02px) scaleX(1.083)">o</b><b style="width:10.4375px;transform:translateX(.03px) scaleX(1.102)">n</b><b style="width:9.5625px;transform:translateX(.02px) scaleX(1.010)">e</b><b style="width:10.4375px;transform:scaleX(1.102)">n</b><b style="width:6.0625px;transform:translateX(.37px) scaleX(1.120)">t</b><b style="width:8.125px;transform:translateX(-.02px) scaleX(0.954)">s</b> <b style="margin-left:-.359375px;width:10.25px;transform:scaleX(1.083)">o</b><b style="width:5.75px;transform:translateX(.2px) scaleX(1.120)">f</b> <b style="margin-left:-.359375px;width:6.0625px;transform:translateX(.37px) scaleX(1.120)">t</b><b style="width:10.4375px;transform:translateX(-.02px) scaleX(1.102)">h</b><b style="width:9.5625px;transform:translateX(-.03px) scaleX(1.010)">e</b> <b style="margin-left:-.359375px;width:10.4375px;transform:scaleX(1.099)">p</b><b style="width:6.875px;transform:translateX(.27px) scaleX(1.120)">r</b><b style="width:4.3125px;transform:translateX(.3px)">i</b><b style="width:8.1875px;transform:translateX(.02px) scaleX(0.960)">c</b><b style="width:9.5625px;transform:translateX(-.03px) scaleX(1.010)">e</b> <b style="margin-left:-.359375px;width:10.375px;transform:scaleX(1.099)">b</b><b style="width:9.4375px;transform:translateX(.02px)">a</b><b style="width:8.125px;transform:translateX(.03px) scaleX(0.954)">s</b><b style="width:8.9375px;transform:scaleX(1.053)">k</b><b style="width:9.5625px;transform:scaleX(1.010)">e</b><b style="width:6.0625px;transform:translateX(.37px) scaleX(1.120)">t</b><b style="width:4.375px;transform:translateX(-.18px)">,</b> <b style="margin-left:-.296875px;width:5.6875px;transform:translateX(.2px) scaleX(1.120)">f</b><b style="width:10.25px;transform:translateX(.02px) scaleX(1.081)">o</b><b style="width:10.4375px;transform:translateX(-.02px) scaleX(1.104)">u</b><b style="width:10.375px;transform:translateX(-.02px) scaleX(1.102)">n</b><b style="width:10.375px;transform:translateX(.03px) scaleX(1.099)">d</b> <b style="margin-left:-.234375px;width:6px;transform:translateX(.36px) scaleX(1.120)">t</b><b style="width:10.4375px;transform:translateX(.03px) scaleX(1.102)">h</b><b style="width:9.5625px;transform:translateX(.02px) scaleX(1.010)">e</b></span>
<span class="l" style="top:391px"><b style="width:9.5px;transform:scaleX(1.008)">e</b><b style="width:8.9375px;transform:translateX(.03px) scaleX(1.050)">x</b><b style="width:10.4375px;transform:scaleX(1.101)">p</b><b style="width:9.5px;transform:translateX(-.03px) scaleX(1.010)">e</b><b style="width:8.125px;transform:translateX(.02px) scaleX(0.960)">c</b><b style="width:6.125px;transform:translateX(.41px) scaleX(1.120)">t</b><b style="width:9.375px;transform:translateX(-.03px) scaleX(0.998)">a</b><b style="width:6.125px;transform:translateX(.42px) scaleX(1.120)">t</b><b style="width:4.25px;transform:translateX(.23px)">i</b><b style="width:10.25px;transform:translateX(.02px) scaleX(1.081)">o</b><b style="width:10.4375px;transform:translateX(-.02px) scaleX(1.102)">n</b> <b style="margin-left:-.359375px;width:10.25px;transform:translateX(.02px) scaleX(1.081)">o</b><b style="width:5.75px;transform:translateX(.2px) scaleX(1.120)">f</b> <b style="margin-left:-.359375px;width:8.125px;transform:scaleX(0.960)">c</b><b style="width:10.25px;transform:translateX(.02px) scaleX(1.083)">o</b><b style="width:8.0625px;transform:scaleX(0.954)">s</b><b style="width:6.0625px;transform:translateX(.42px) scaleX(1.120)">t</b> <b style="margin-left:-.296875px;width:4.3125px;transform:translateX(.27px)">i</b><b style="width:10.4375px;transform:translateX(-.02px) scaleX(1.104)">n</b><b style="width:8.125px;transform:translateX(-.02px) scaleX(0.960)">c</b><b style="width:6.9375px;transform:translateX(.3px) scaleX(1.120)">r</b><b style="width:9.5625px;transform:scaleX(1.010)">e</b><b style="width:9.4375px;transform:translateX(-.02px)">a</b><b style="width:8.0625px;transform:scaleX(0.954)">s</b><b style="width:9.5625px;transform:translateX(.03px) scaleX(1.010)">e</b><b style="width:8.125px;transform:translateX(.02px) scaleX(0.956)">s</b> <b style="margin-left:-.296875px;width:10.375px;transform:translateX(-.03px) scaleX(1.104)">u</b><b style="width:10.4375px;transform:translateX(.03px) scaleX(1.102)">n</b><b style="width:8.1875px;transform:translateX(.02px) scaleX(0.960)">c</b><b style="width:10.375px;transform:translateX(-.03px) scaleX(1.102)">h</b><b style="width:9.5px;transform:translateX(.02px)">a</b><b style="width:10.375px;transform:translateX(-.03px) scaleX(1.102)">n</b><b style="width:9.25px;transform:translateX(.02px) scaleX(0.977)">g</b><b style="width:9.5625px;transform:scaleX(1.010)">e</b><b style="width:10.375px;transform:translateX(-.02px) scaleX(1.099)">d</b> <b style="margin-left:-.296875px;width:9.4375px;transform:translateX(-.02px)">a</b><b style="width:6.0625px;transform:translateX(.38px) scaleX(1.120)">t</b> <b style="margin-left:-.359375px;width:9.75px;transform:translateX(.03px) scaleX(1.028)">3</b> <b style="margin-left:-.296875px;width:10.375px;transform:translateX(-.02px) scaleX(1.099)">p</b><b style="width:9.5625px;transform:translateX(.02px) scaleX(1.008)">e</b><b style="width:7px;transform:translateX(.29px) scaleX(1.120)">r</b> <b style="margin-left:-.359375px;width:8.125px;transform:translateX(-.02px) scaleX(0.960)">c</b><b style="width:9.5625px;transform:scaleX(1.010)">e</b><b style="width:10.4375px;transform:translateX(-.02px) scaleX(1.102)">n</b><b style="width:6.0625px;transform:translateX(.36px) scaleX(1.120)">t</b> <b style="margin-left:-.359375px;width:5.75px;transform:translateX(.23px) scaleX(1.120)">f</b><b style="width:10.1875px;transform:translateX(-.02px) scaleX(1.081)">o</b><b style="width:7px;transform:translateX(.32px) scaleX(1.120)">r</b> <b style="margin-left:-.359375px;width:10.4375px;transform:scaleX(1.104)">h</b><b style="width:9.5625px;transform:scaleX(1.008)">e</b><b style="width:9.4375px;transform:translateX(-.02px) scaleX(0.998)">a</b><b style="width:4.3125px;transform:translateX(.25px)">l</b><b style="width:6px;transform:translateX(.36px) scaleX(1.120)">t</b><b style="width:10.4375px;transform:translateX(.03px) scaleX(1.102)">h</b><b style="width:8.1875px;transform:translateX(.02px) scaleX(0.960)">c</b><b style="width:9.4375px;transform:translateX(-.03px) scaleX(0.998)">a</b><b style="width:6.9375px;transform:translateX(.28px) scaleX(1.120)">r</b><b style="width:9.5625px;transform:translateX(-.02px) scaleX(1.010)">e</b> <b style="margin-left:-.359375px;width:9.4375px;transform:translateX(.02px) scaleX(0.998)">a</b><b style="width:10.4375px;transform:translateX(.02px) scaleX(1.104)">n</b><b style="width:10.375px;transform:translateX(.02px) scaleX(1.099)">d</b> <b style="margin-left:-.296875px;width:9.75px;transform:translateX(.02px) scaleX(1.028)">2</b> <b style="margin-left:-.359375px;width:10.4375px;transform:translateX(.03px) scaleX(1.099)">p</b><b style="width:9.5625px;transform:translateX(-.02px) scaleX(1.010)">e</b><b style="width:7px;transform:translateX(.28px) scaleX(1.120)">r</b> <b style="margin-left:-.421875px;width:8.1875px;transform:translateX(.02px) scaleX(0.961)">c</b><b style="width:9.5px;transform:translateX(-.02px) scaleX(1.008)">e</b><b style="width:10.4375px;transform:translateX(.03px) scaleX(1.102)">n</b><b style="width:6.0625px;transform:translateX(.4px) scaleX(1.120)">t</b></span>
<span class="l" style="top:419px"><b style="width:5.75px;transform:translateX(.22px) scaleX(1.120)">f</b><b style="width:10.1875px;transform:translateX(-.03px) scaleX(1.081)">o</b><b style="width:7px;transform:translateX(.31px) scaleX(1.120)">r</b> <b style="margin-left:-.359375px;width:5.6875px;transform:translateX(.2px) scaleX(1.120)">f</b><b style="width:10.25px;transform:translateX(.02px) scaleX(1.083)">o</b><b style="width:10.25px;transform:scaleX(1.081)">o</b><b style="width:10.4375px;transform:translateX(-.03px) scaleX(1.101)">d</b> <b style="margin-left:-.359375px;width:9.4375px;transform:translateX(-.02px) scaleX(0.998)">a</b><b style="width:10.375px;transform:translateX(-.02px) scaleX(1.102)">n</b><b style="width:10.4375px;transform:translateX(.03px) scaleX(1.101)">d</b> <b style="margin-left:-.296875px;width:10.375px;transform:translateX(-.02px) scaleX(1.102)">u</b><b style="width:6.125px;transform:translateX(.42px) scaleX(1.120)">t</b><b style="width:4.25px;transform:translateX(.23px)">i</b><b style="width:4.3125px;transform:translateX(.27px)">l</b><b style="width:4.3125px;transform:translateX(.25px)">i</b><b style="width:6px;transform:translateX(.36px) scaleX(1.120)">t</b><b style="width:4.3125px;transform:translateX(.29px)">i</b><b style="width:9.5625px;transform:scaleX(1.010)">e</b><b style="width:8.125px;transform:translateX(-.02px) scaleX(0.956)">s</b><b style="width:4.5px;transform:translateX(-.16px)">.</b></span>
</p>
</div>
</body></html>
